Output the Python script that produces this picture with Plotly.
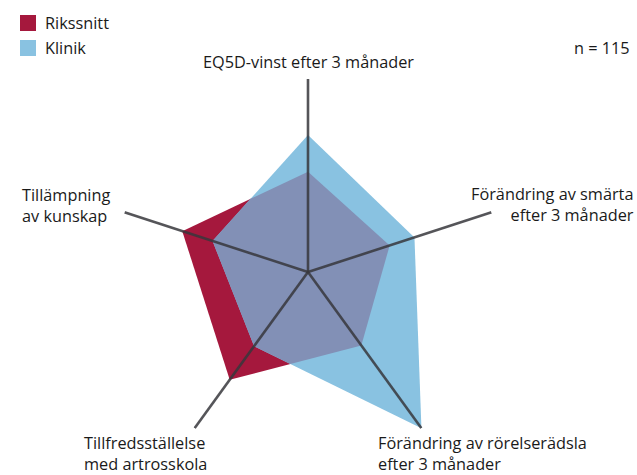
import math
import plotly.graph_objects as go

# ---- data ----
categories = [
    "EQ5D-vinst efter 3 månader",
    "Förändring av smärta<br>efter 3 månader",
    "Förändring av rörelserädsla<br>efter 3 månader",
    "Tillfredsställelse<br>med artrosskola",
    "Tillämpning<br>av kunskap",
]
series_names = ["Rikssnitt", "Klinik"]
rikssnitt = [0.52, 0.445, 0.47, 0.69, 0.685]
klinik = [0.71, 0.58, 1.0, 0.475, 0.52]
n_label = "n = 115"

RED = "#a5183d"
BLUE = "#89c2e1"
OVERLAP = "#8290b6"
AXIS = "rgba(55,55,60,0.85)"
FONT = "Open Sans"
FS = 16.3

N = len(categories)
thetas = [360.0 * i / N for i in range(N)]


def to_xy(r, th):
    a = math.radians(th)
    return r * math.sin(a), r * math.cos(a)


def seg_intersect(p1, p2, p3, p4):
    x1, y1 = p1; x2, y2 = p2; x3, y3 = p3; x4, y4 = p4
    den = (x1 - x2) * (y3 - y4) - (y1 - y2) * (x3 - x4)
    t = ((x1 - x3) * (y3 - y4) - (y1 - y3) * (x3 - x4)) / den
    return x1 + t * (x2 - x1), y1 + t * (y2 - y1)


# intersection polygon of the two series (min along each ray)
ov_r, ov_t = [], []
for i in range(N):
    j = (i + 1) % N
    ov_r.append(min(rikssnitt[i], klinik[i]))
    ov_t.append(thetas[i])
    d1 = rikssnitt[i] - klinik[i]
    d2 = rikssnitt[j] - klinik[j]
    if d1 * d2 < 0:
        x, y = seg_intersect(to_xy(rikssnitt[i], thetas[i]), to_xy(rikssnitt[j], thetas[j]),
                             to_xy(klinik[i], thetas[i]), to_xy(klinik[j], thetas[j]))
        ov_r.append(math.hypot(x, y))
        ov_t.append(math.degrees(math.atan2(x, y)) % 360)

fig = go.Figure()
fig.add_trace(go.Scatterpolar(r=rikssnitt + [rikssnitt[0]], theta=thetas + [thetas[0]],
                              fill="toself", fillcolor=RED, line=dict(width=0, color=RED),
                              mode="lines", name=series_names[0], hoverinfo="skip"))
fig.add_trace(go.Scatterpolar(r=klinik + [klinik[0]], theta=thetas + [thetas[0]],
                              fill="toself", fillcolor=BLUE, line=dict(width=0, color=BLUE),
                              mode="lines", name=series_names[1], hoverinfo="skip"))
fig.add_trace(go.Scatterpolar(r=ov_r + [ov_r[0]], theta=ov_t + [ov_t[0]],
                              fill="toself", fillcolor=OVERLAP, line=dict(width=0, color=OVERLAP),
                              mode="lines", showlegend=False, hoverinfo="skip"))
for th in thetas:
    fig.add_trace(go.Scatterpolar(r=[0, 1], theta=[th, th], mode="lines",
                                  line=dict(color=AXIS, width=2.6), showlegend=False,
                                  hoverinfo="skip"))

W, H = 637, 475
cx, cy, R = 308, 272, 193

fig.update_layout(
    width=W, height=H,
    margin=dict(l=0, r=0, t=0, b=0),
    paper_bgcolor="white",
    plot_bgcolor="white",
    showlegend=False,
    font=dict(family=FONT, size=FS, color="#1a1a1a"),
    polar=dict(
        domain=dict(x=[(cx - R) / W, (cx + R) / W], y=[1 - (cy + R) / H, 1 - (cy - R) / H]),
        bgcolor="white",
        radialaxis=dict(range=[0, 1], visible=False),
        angularaxis=dict(rotation=90, direction="clockwise", visible=False,
                         thetaunit="degrees"),
    ),
)


def px(x):
    return x / W


def py(y):
    return 1 - y / H


ann = [
    dict(text=categories[0], x=px(308), y=py(62), xanchor="center", yanchor="middle", align="center"),
    dict(text=categories[1], x=px(636), y=py(204), xanchor="right", yanchor="middle", align="right"),
    dict(text=categories[2], x=px(376), y=py(453), xanchor="left", yanchor="middle", align="left"),
    dict(text=categories[3], x=px(82), y=py(453), xanchor="left", yanchor="middle", align="left"),
    dict(text=categories[4], x=px(20), y=py(205), xanchor="left", yanchor="middle", align="left"),
    dict(text=n_label, x=px(632), y=py(48), xanchor="right", yanchor="middle", align="right"),
    dict(text=series_names[0], x=px(43), y=py(23), xanchor="left", yanchor="middle", align="left"),
    dict(text=series_names[1], x=px(43), y=py(48), xanchor="left", yanchor="middle", align="left"),
]
for a in ann:
    a.update(xref="paper", yref="paper", showarrow=False)
    fig.add_annotation(**a)

shapes = [
    dict(type="rect", xref="paper", yref="paper", x0=px(20), x1=px(36), y0=py(31), y1=py(15),
         fillcolor=RED, line=dict(width=0)),
    dict(type="rect", xref="paper", yref="paper", x0=px(20), x1=px(36), y0=py(56), y1=py(40),
         fillcolor=BLUE, line=dict(width=0)),
]
fig.update_layout(shapes=shapes)

fig.write_html("out.html", config={"displayModeBar": False},
               post_script="document.body.style.margin='0';document.body.style.overflow='hidden';")
